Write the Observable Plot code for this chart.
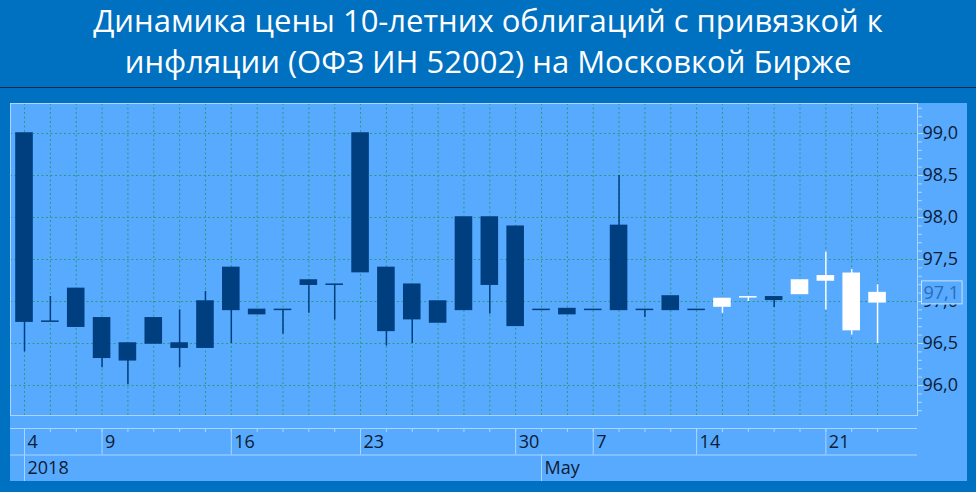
<!DOCTYPE html>
<html><head><meta charset="utf-8">
<script src="https://cdn.jsdelivr.net/npm/d3@7"></script>
<script src="https://cdn.jsdelivr.net/npm/@observablehq/plot@0.6"></script>
<style>
html,body{margin:0;padding:0;}
body{width:976px;height:492px;background:#0070C0;overflow:hidden;position:relative;font-family:"Open Sans",sans-serif;}
#title{position:absolute;left:0;top:0;width:976px;height:88px;border-bottom:1px solid #14264a;color:#fff;text-align:center;font-size:31px;line-height:41px;padding-top:0px;box-sizing:border-box;}
#panel{position:absolute;left:10px;top:103px;width:957px;height:378px;background:#58AAFF;}
#panel svg{display:block;}
</style></head><body>
<div id="title">Динамика цены 10-летних облигаций с привязкой к<br>инфляции (ОФЗ ИН 52002) на Московкой Бирже</div>
<div id="panel"></div>
<script>
// ---- data ----
const dates = ["2018-04-04","2018-04-05","2018-04-06","2018-04-09","2018-04-10","2018-04-11","2018-04-12","2018-04-13",
  "2018-04-16","2018-04-17","2018-04-18","2018-04-19","2018-04-20","2018-04-23","2018-04-24","2018-04-25","2018-04-26",
  "2018-04-27","2018-04-28","2018-04-30","2018-05-03","2018-05-04","2018-05-07","2018-05-08","2018-05-10","2018-05-11",
  "2018-05-14","2018-05-15","2018-05-16","2018-05-17","2018-05-18","2018-05-21","2018-05-22","2018-05-23"];
const open  = [99.00,96.76,97.15,96.80,96.50,96.80,96.50,97.00,97.40,96.90,96.90,97.25,97.20,99.00,97.40,97.20,97.00,
  98.00,98.00,97.89,96.90,96.91,96.90,97.90,96.90,97.06,96.90,96.94,97.05,97.05,97.09,97.25,96.66,96.99];
const close = [96.76,96.76,96.70,96.33,96.30,96.50,96.45,96.45,96.90,96.85,96.90,97.20,97.20,97.35,96.65,96.79,96.75,
  96.90,97.20,96.71,96.90,96.85,96.90,96.90,96.90,96.90,96.90,97.03,97.05,97.02,97.25,97.30,97.33,97.10];
const high  = [99.00,97.06,97.15,96.80,96.50,96.80,96.90,97.12,97.40,96.90,96.90,97.25,97.20,99.00,97.40,97.20,97.00,
  98.00,98.00,97.89,96.90,96.91,96.90,98.50,96.90,97.06,96.90,97.04,97.05,97.05,97.25,97.59,97.38,97.20];
const low   = [96.40,96.76,96.70,96.21,96.01,96.50,96.21,96.45,96.50,96.85,96.61,96.86,96.78,97.35,96.47,96.50,96.75,
  96.90,96.85,96.71,96.90,96.85,96.90,96.90,96.81,96.90,96.90,96.86,97.00,96.93,97.09,96.90,96.60,96.50];
const tone  = ["dark","dark","dark","dark","dark","dark","dark","dark","dark","dark","dark","dark","dark","dark","dark","dark","dark",
  "dark","dark","dark","dark","dark","dark","dark","dark","dark","dark","light","light","dark","light","light","light","light"];

const yTicks = [96.0, 96.5, 97.0, 97.5, 98.0, 98.5, 99.0];
const dayTickIdx = [0, 3, 8, 13, 19, 22, 26, 31];
const dayTickLabels = ["4", "9", "16", "23", "30", "7", "14", "21"];
const periodTickIdx = [0, 20];
const periodTickLabels = ["2018", "May"];
const lastPrice = 97.1;

// ---- build ----
const rows = dates.map((d, i) => ({i, date: d, open: open[i], close: close[i], high: high[i], low: low[i], tone: tone[i]}));
const dayTicks = dayTickIdx.map((i, k) => ({i, label: dayTickLabels[k]}));
const periodTicks = periodTickIdx.map((i, k) => ({i, label: periodTickLabels[k]}));
const minorTicks = d3.range(957, 994).map(v => v / 10);

const W = 957;
const xDomain = [-0.542, 34.545];
const yDomain = [95.643, 99.357];
const gridC = "#2a9a78";
const lineC = "#abd6ff";
const textC = "#0d1b33";
const fmt = v => v.toFixed(1).replace(".", ",");
const colorScale = {domain: ["dark", "light"], range: ["#003F7F", "#ffffff"]};

const chart = Plot.plot({
  width: W, height: 313, marginTop: 0, marginLeft: 0, marginRight: 50, marginBottom: 1,
  style: {background: "transparent", overflow: "visible", fontFamily: "Open Sans"},
  x: {domain: xDomain, axis: null},
  y: {domain: yDomain, axis: null},
  color: colorScale,
  marks: [
    Plot.ruleY(yTicks, {stroke: gridC, strokeDasharray: "2,2.5"}),
    Plot.ruleX(rows, {x: "i", stroke: gridC, strokeDasharray: "2,2.5"}),
    Plot.frame({stroke: lineC}),
    Plot.axisY({anchor: "right", ticks: minorTicks, tickSize: 4, tickFormat: () => "", stroke: lineC}),
    Plot.axisY({anchor: "right", ticks: yTicks, tickSize: 5, tickPadding: 0, tickFormat: fmt,
      fontSize: 18, fill: textC, stroke: lineC, textAnchor: "start"}),
    Plot.ruleX(rows, {x: "i", y1: "low", y2: "high", stroke: "tone", strokeWidth: 1.5}),
    Plot.rect(rows, {x1: d => d.i - 0.34, x2: d => d.i + 0.34, y1: "open", y2: "close", fill: "tone",
      insetTop: -0.75, insetBottom: -0.75}),
    Plot.text([lastPrice], {y: d => d, frameAnchor: "right", textAnchor: "start", dx: 6, text: fmt,
      fontSize: 18, fill: "#2b6cb8", className: "last-price"})
  ]
});

const axisRows = Plot.plot({
  width: W, height: 65, marginTop: 12, marginBottom: 0, marginLeft: 0, marginRight: 50,
  style: {background: "transparent", overflow: "visible", fontFamily: "Open Sans"},
  x: {domain: xDomain, axis: null},
  y: {domain: [0, 2], axis: null},
  marks: [
    Plot.ruleY([1, 2], {stroke: lineC}),
    Plot.tickX(rows, {x: "i", stroke: lineC, insetBottom: 49}),
    Plot.ruleX(dayTicks, {x: "i", y1: 1, y2: 2, stroke: lineC}),
    Plot.ruleX(periodTicks, {x: "i", y1: 0, y2: 1, stroke: lineC}),
    Plot.text(dayTicks, {x: "i", y: 1.5, text: "label", textAnchor: "start", dx: 3, fontSize: 18, fill: textC}),
    Plot.text(periodTicks, {x: "i", y: 0.5, text: "label", textAnchor: "start", dx: 3, fontSize: 18, fill: textC})
  ]
});

const panel = document.getElementById("panel");
panel.appendChild(chart);
panel.appendChild(axisRows);

// box around the last-price label, sized from the rendered text (covers the axis label beneath, as in the source)
const lp = chart.querySelector(".last-price text");
if (lp) {
  const b = lp.getBBox();
  const r = document.createElementNS("http://www.w3.org/2000/svg", "rect");
  const t = lp.getAttribute("transform");
  if (t) r.setAttribute("transform", t);
  r.setAttribute("x", b.x - 2);
  r.setAttribute("y", b.y + 1);
  r.setAttribute("width", b.width + 5);
  r.setAttribute("height", b.height - 1);
  r.setAttribute("fill", "#58AAFF");
  r.setAttribute("stroke", "#c6e3ff");
  lp.parentNode.insertBefore(r, lp);
}
</script>
</body></html>
